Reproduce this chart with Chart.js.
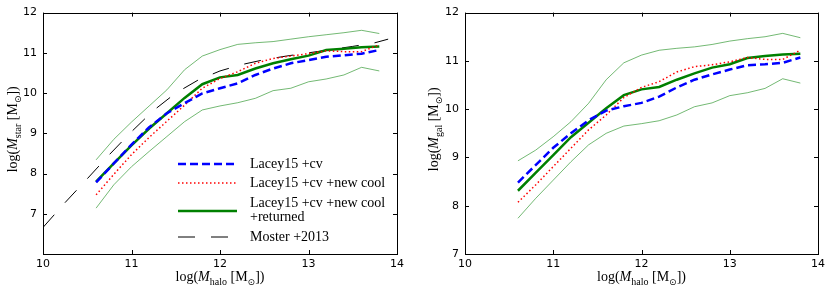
<!DOCTYPE html>
<html>
<head>
<meta charset="utf-8">
<script src="https://cdn.jsdelivr.net/npm/chart.js@4/dist/chart.umd.min.js"></script>
<style>
  body { margin: 0; background: #fff; }
  #wrap { position: relative; width: 831px; height: 296px; }
  canvas { position: absolute; top: 0; }
</style>
</head>
<body>
<div id="wrap">
  <canvas id="left" width="420" height="296" style="left:0"></canvas>
  <canvas id="right" width="411" height="296" style="left:420px"></canvas>
</div>
<script>
// halo mass bins (log Mhalo)
var mhalo = [10.6, 10.8, 11.0, 11.2, 11.4, 11.6, 11.8, 12.0, 12.2, 12.4, 12.6, 12.8, 13.0, 13.2, 13.4, 13.6, 13.8];

// left panel: log Mstar
var starCv      = [7.78, 8.25, 8.72, 9.15, 9.50, 9.75, 9.99, 10.12, 10.24, 10.45, 10.61, 10.74, 10.82, 10.90, 10.94, 10.98, 11.07];
var starCool    = [7.47, 7.98, 8.47, 8.90, 9.30, 9.70, 10.12, 10.36, 10.53, 10.74, 10.86, 10.92, 10.98, 11.05, 11.03, 11.03, 11.20];
var starRet     = [7.80, 8.25, 8.70, 9.12, 9.50, 9.88, 10.22, 10.39, 10.45, 10.61, 10.74, 10.84, 10.93, 11.07, 11.10, 11.14, 11.16];
var starRetHi   = [8.34, 8.85, 9.28, 9.68, 10.08, 10.58, 10.92, 11.08, 11.21, 11.25, 11.28, 11.34, 11.40, 11.45, 11.50, 11.56, 11.48];
var starRetLo   = [7.14, 7.72, 8.17, 8.55, 8.92, 9.29, 9.58, 9.68, 9.76, 9.87, 10.06, 10.12, 10.28, 10.35, 10.45, 10.64, 10.55];

// Moster+2013 relation
var mosterHalo  = [10.0, 10.25, 10.5, 10.75, 11.0, 11.25, 11.5, 11.75, 12.0, 12.25, 12.5, 12.75, 13.0, 13.25, 13.5, 13.75, 13.9];
var mosterStar  = [6.66, 7.28, 7.87, 8.47, 9.04, 9.57, 10.0, 10.32, 10.55, 10.71, 10.83, 10.92, 11.0, 11.08, 11.16, 11.25, 11.34];

// right panel: log Mgal
var galCv       = [8.48, 8.84, 9.20, 9.50, 9.77, 9.97, 10.06, 10.13, 10.26, 10.45, 10.61, 10.72, 10.82, 10.91, 10.93, 10.96, 11.07];
var galCool     = [8.07, 8.43, 8.81, 9.19, 9.57, 9.88, 10.24, 10.45, 10.57, 10.77, 10.88, 10.92, 10.98, 11.07, 11.03, 11.03, 11.22];
var galRet      = [8.31, 8.68, 9.05, 9.42, 9.72, 10.02, 10.29, 10.41, 10.46, 10.61, 10.74, 10.86, 10.93, 11.06, 11.10, 11.13, 11.15];
var galRetHi    = [8.93, 9.15, 9.43, 9.74, 10.12, 10.61, 10.96, 11.12, 11.22, 11.26, 11.29, 11.34, 11.41, 11.46, 11.50, 11.57, 11.48];
var galRetLo    = [7.74, 8.15, 8.53, 8.91, 9.26, 9.50, 9.65, 9.70, 9.76, 9.88, 10.05, 10.13, 10.28, 10.34, 10.43, 10.63, 10.54];

function pts(xs, ys) {
  return xs.map(function(x, i) { return { x: x, y: ys[i] }; });
}

var styles = {
  cv:     { borderColor: '#0000ff', borderWidth: 2.5, borderDash: [8, 4] },
  cool:   { borderColor: '#ff0000', borderWidth: 1.5, borderDash: [1.5, 2.5] },
  ret:    { borderColor: '#008000', borderWidth: 2.5, borderDash: [] },
  band:   { borderColor: 'rgba(0,128,0,0.55)', borderWidth: 1, borderDash: [] },
  moster: { borderColor: '#000000', borderWidth: 1, borderDash: [17, 16] }
};

function ds(data, st, order) {
  return Object.assign({
    data: data, showLine: true, pointRadius: 0, fill: false,
    tension: 0, order: order
  }, st);
}

var serif = '"Liberation Serif", "DejaVu Serif", serif';

// draws a label like log(M_sub [M_sun]) with subscripts
function mathLabel(ctx, sub, cx, cy, rot) {
  var parts = [
    { t: 'log(', f: '14px ' + serif },
    { t: 'M', f: 'italic 14px ' + serif },
    { t: sub, f: '10px ' + serif, dy: 3.5 },
    { t: ' [M', f: '14px ' + serif },
    { t: '\u2299', f: '9px "DejaVu Sans"', dy: 3.5 },
    { t: '])', f: '14px ' + serif }
  ];
  ctx.save();
  var total = 0;
  parts.forEach(function(p) { ctx.font = p.f; p.w = ctx.measureText(p.t).width; total += p.w; });
  ctx.translate(cx, cy);
  ctx.rotate(rot);
  ctx.fillStyle = '#000';
  ctx.textBaseline = 'alphabetic';
  ctx.textAlign = 'left';
  var x = -total / 2;
  parts.forEach(function(p) {
    ctx.font = p.f;
    ctx.fillText(p.t, x, p.dy || 0);
    x += p.w;
  });
  ctx.restore();
}

// frame, inward ticks and axis titles
function framePlugin(ylab, ylabX) {
  return {
    id: 'frame',
    afterDatasetsDraw: function(chart) {
      var ctx = chart.ctx, a = chart.chartArea;
      var xs = chart.scales.x, ys = chart.scales.y;
      ctx.save();
      ctx.strokeStyle = '#000';
      ctx.lineWidth = 1;
      ctx.setLineDash([]);
      ctx.strokeRect(Math.round(a.left) + 0.5, Math.round(a.top) + 0.5,
        Math.round(a.right - a.left), Math.round(a.bottom - a.top));
      ctx.beginPath();
      xs.ticks.forEach(function(t) {
        var px = Math.round(xs.getPixelForValue(t.value)) + 0.5;
        ctx.moveTo(px, a.bottom); ctx.lineTo(px, a.bottom - 4);
        ctx.moveTo(px, a.top); ctx.lineTo(px, a.top + 4);
      });
      ys.ticks.forEach(function(t) {
        var py = Math.round(ys.getPixelForValue(t.value)) + 0.5;
        ctx.moveTo(a.left, py); ctx.lineTo(a.left + 4, py);
        ctx.moveTo(a.right, py); ctx.lineTo(a.right - 4, py);
      });
      ctx.stroke();
      ctx.restore();
    },
    afterDraw: function(chart) {
      var ctx = chart.ctx, a = chart.chartArea;
      mathLabel(ctx, 'halo', (a.left + a.right) / 2, 281, 0);
      mathLabel(ctx, ylab, ylabX, (a.top + a.bottom) / 2 - 4, -Math.PI / 2);
    }
  };
}

var legendItems = [
  { st: styles.cv, lines: ['Lacey15 +cv'] },
  { st: styles.cool, lines: ['Lacey15 +cv +new cool'] },
  { st: styles.ret, lines: ['Lacey15 +cv +new cool', '+returned'] },
  { st: styles.moster, lines: ['Moster +2013'] }
];

var legendPlugin = {
  id: 'ownLegend',
  afterDraw: function(chart) {
    var ctx = chart.ctx;
    var rows = [164, 183, 211, 237];
    ctx.save();
    legendItems.forEach(function(it, i) {
      var y = rows[i];
      ctx.beginPath();
      ctx.strokeStyle = it.st.borderColor;
      ctx.lineWidth = it.st.borderWidth;
      ctx.setLineDash(it.st.borderDash);
      ctx.moveTo(178, y); ctx.lineTo(237, y);
      ctx.stroke();
      ctx.setLineDash([]);
      ctx.fillStyle = '#000';
      ctx.font = '14px ' + serif;
      ctx.textBaseline = 'middle';
      if (it.lines.length === 1) {
        ctx.fillText(it.lines[0], 250, y);
      } else {
        ctx.fillText(it.lines[0], 250, y - 8);
        ctx.fillText(it.lines[1], 250, y + 6);
      }
    });
    ctx.restore();
  }
};

function makeOptions(ymin, hideMin, padRight) {
  var tickFont = { family: '"DejaVu Sans", sans-serif', size: 11 };
  return {
    responsive: false,
    animation: false,
    layout: { padding: { top: 12, right: padRight, left: 0, bottom: 0 } },
    plugins: { legend: { display: false }, tooltip: { enabled: false } },
    scales: {
      x: {
        type: 'linear', min: 10, max: 14,
        grid: { display: false, drawTicks: false },
        border: { display: false },
        ticks: { stepSize: 1, color: '#000', font: tickFont, padding: 4 },
        afterFit: function(s) { s.height = 42; }
      },
      y: {
        type: 'linear', min: ymin, max: 12,
        grid: { display: false, drawTicks: false },
        border: { display: false },
        ticks: {
          stepSize: 1, color: '#000', font: tickFont, padding: 6,
          callback: function(v) { return (hideMin && v === ymin) ? '' : v; }
        },
        afterFit: function(s) { s.width = 43; }
      }
    }
  };
}

new Chart(document.getElementById('left'), {
  type: 'scatter',
  data: {
    datasets: [
      ds(pts(mhalo, starRetHi), styles.band, 5),
      ds(pts(mhalo, starRetLo), styles.band, 5),
      ds(pts(mosterHalo, mosterStar), styles.moster, 4),
      ds(pts(mhalo, starRet), styles.ret, 3),
      ds(pts(mhalo, starCool), styles.cool, 2),
      ds(pts(mhalo, starCv), styles.cv, 1)
    ]
  },
  options: makeOptions(6, true, 23),
  plugins: [framePlugin('star', 17), legendPlugin]
});

var rightOpts = makeOptions(7, false, 13);
rightOpts.scales.y.afterFit = function(s) { s.width = 45; };

new Chart(document.getElementById('right'), {
  type: 'scatter',
  data: {
    datasets: [
      ds(pts(mhalo, galRetHi), styles.band, 5),
      ds(pts(mhalo, galRetLo), styles.band, 5),
      ds(pts(mhalo, galRet), styles.ret, 3),
      ds(pts(mhalo, galCool), styles.cool, 2),
      ds(pts(mhalo, galCv), styles.cv, 1)
    ]
  },
  options: rightOpts,
  plugins: [framePlugin('gal', 18)]
});
</script>
</body>
</html>
